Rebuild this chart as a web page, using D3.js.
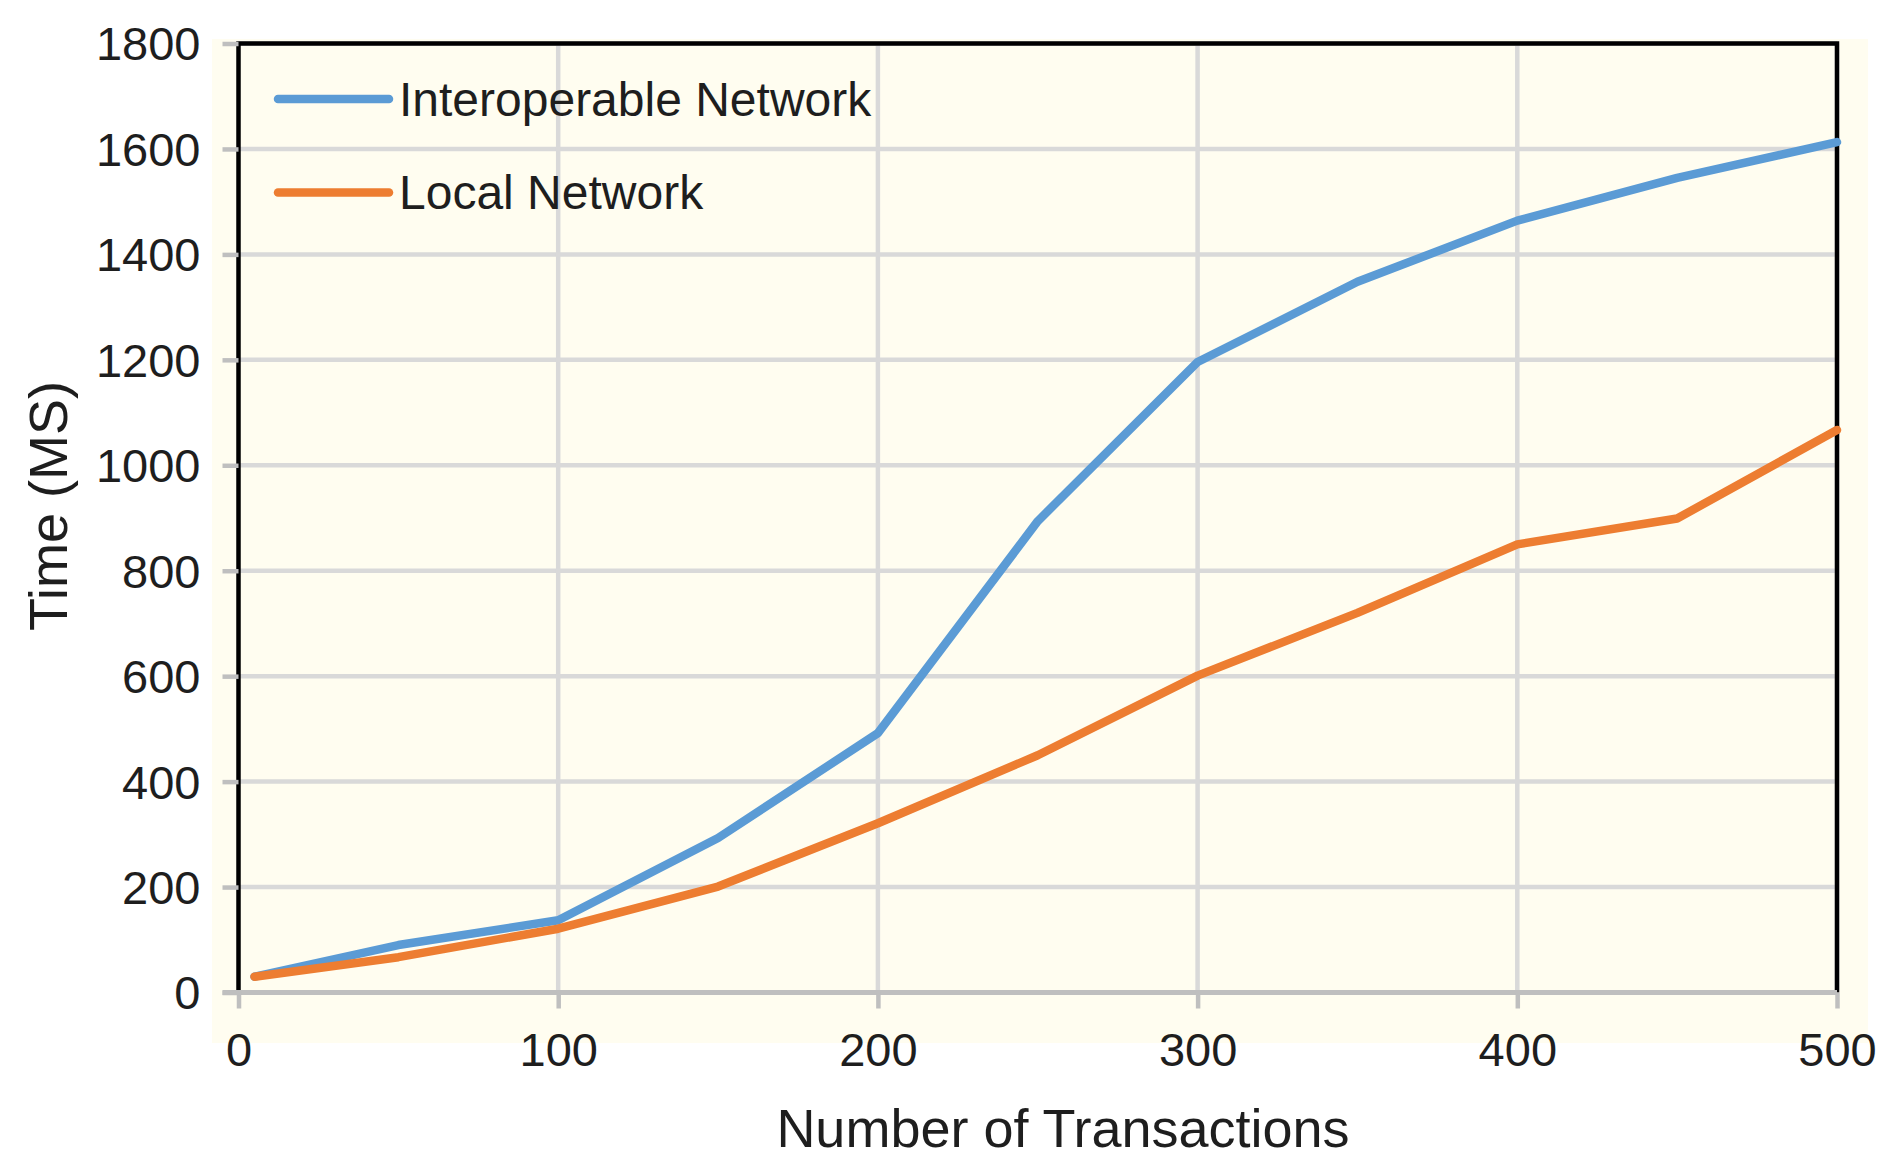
<!DOCTYPE html>
<html>
<head>
<meta charset="utf-8">
<script src="https://cdn.jsdelivr.net/npm/d3@7"></script>
<style>
  html, body { margin: 0; padding: 0; background: #ffffff; }
  svg text { font-family: "Liberation Sans", Arial, Helvetica, sans-serif; fill: #1e1e1e; }
</style>
</head>
<body>
<div id="chart"></div>
<script>
// values
const transactions = [5, 50, 100, 150, 200, 250, 300, 350, 400, 450, 500];
const interoperable = [30, 90, 137, 293, 492, 894, 1196, 1348, 1464, 1545, 1613];
const local = [30, 67, 121, 201, 321, 450, 601, 720, 850, 899, 1067];
const xTicks = [0, 100, 200, 300, 400, 500];
const yTicks = [0, 200, 400, 600, 800, 1000, 1200, 1400, 1600, 1800];
const seriesNames = ["Interoperable Network", "Local Network"];
const seriesColors = ["#5b9bd5", "#ed7d31"];

const width = 1899, height = 1170;
const margin = { top: 43.5, right: 62, bottom: 177.5, left: 238.5 };

const svg = d3.select("#chart").append("svg")
    .attr("width", width)
    .attr("height", height);

// cream chart area
svg.append("rect")
    .attr("x", 212).attr("y", 39)
    .attr("width", 1656).attr("height", 1004)
    .attr("fill", "#fffdf0");

const x = d3.scaleLinear().domain([0, 500]).range([margin.left, width - margin.right]);
const y = d3.scaleLinear().domain([0, 1800]).range([height - margin.bottom, margin.top]);

// grid
svg.append("g").selectAll("line")
    .data(yTicks.slice(1))
    .join("line")
    .attr("x1", x(0)).attr("x2", x(500))
    .attr("y1", d => y(d)).attr("y2", d => y(d))
    .attr("stroke", "#d9d9d9")
    .attr("stroke-width", 4.5);

svg.append("g").selectAll("line")
    .data(xTicks.slice(1))
    .join("line")
    .attr("x1", d => x(d)).attr("x2", d => x(d))
    .attr("y1", y(0)).attr("y2", y(1800))
    .attr("stroke", "#d9d9d9")
    .attr("stroke-width", 4.5);

// black frame on top, left and right
svg.append("path")
    .attr("d", `M${x(0)},${y(0)} V${y(1800)} H${x(500)} V${y(0)}`)
    .attr("fill", "none")
    .attr("stroke", "#000")
    .attr("stroke-width", 4.5);

// axes
const xAxis = svg.append("g")
    .attr("transform", `translate(0,${y(0)})`)
    .call(d3.axisBottom(x).tickValues(xTicks).tickSize(16).tickPadding(24).tickFormat(d3.format("d")));

const yAxis = svg.append("g")
    .attr("transform", `translate(${x(0)},0)`)
    .call(d3.axisLeft(y).tickValues(yTicks).tickSize(16).tickPadding(22).tickFormat(d3.format("d")));

xAxis.select(".domain").attr("stroke", "#bfbfbf").attr("stroke-width", 5)
    .attr("d", `M${x(0) - 16},0 H${x(500)}`);
yAxis.select(".domain").remove();
svg.selectAll(".tick line").attr("stroke", "#bfbfbf").attr("stroke-width", 4.5);
svg.selectAll(".tick text")
    .style("font-family", '"Liberation Sans", Arial, sans-serif')
    .style("font-size", "47px")
    .attr("fill", "#1e1e1e");
xAxis.selectAll(".tick text").attr("dy", "0.71em");
yAxis.selectAll(".tick text").attr("dy", "0.35em");

// lines
const line = d3.line()
    .x((d, i) => x(transactions[i]))
    .y(d => y(d));

[interoperable, local].forEach((vals, k) => {
    svg.append("path")
        .datum(vals)
        .attr("d", line)
        .attr("fill", "none")
        .attr("stroke", seriesColors[k])
        .attr("stroke-width", 8.5)
        .attr("stroke-linejoin", "round")
        .attr("stroke-linecap", "round");
});

// legend
const legend = svg.append("g").selectAll("g")
    .data(seriesNames)
    .join("g")
    .attr("transform", (d, i) => `translate(278,${99 + i * 93.5})`);

legend.append("line")
    .attr("x1", 0).attr("x2", 111)
    .attr("stroke", (d, i) => seriesColors[i])
    .attr("stroke-width", 8.5)
    .attr("stroke-linecap", "round");

legend.append("text")
    .attr("x", 121)
    .attr("dy", "0.35em")
    .style("font-size", "48px")
    .text(d => d);

// axis titles
svg.append("text")
    .attr("x", 1063).attr("y", 1147)
    .attr("text-anchor", "middle")
    .style("font-size", "54px")
    .text("Number of Transactions");

svg.append("text")
    .attr("transform", "translate(67,506) rotate(-90)")
    .attr("text-anchor", "middle")
    .style("font-size", "54px")
    .text("Time (MS)");
</script>
</body>
</html>
